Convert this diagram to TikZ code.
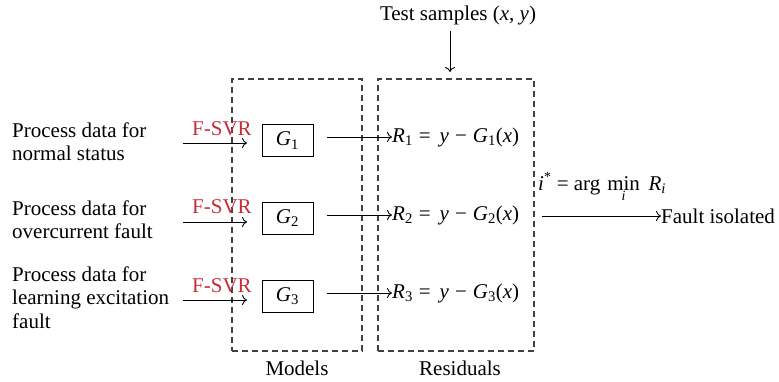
\documentclass[tikz,border=0pt]{standalone}
\usepackage{fontspec}
\setmainfont{Liberation Serif}
\usetikzlibrary{arrows.meta}
\definecolor{svrred}{RGB}{200,45,55}
\newcommand\vv[1]{\textit{#1}}
\newcommand\sbs[1]{\textsubscript{#1}}
\newcommand\resid[1]{\vv{R}\sbs{#1}\hspace{6pt}=\hspace{9pt}\vv{y}\hspace{6pt}−\hspace{6pt}\vv{G}\sbs{#1}(\vv{x})}
\begin{document}
\begin{tikzpicture}[x=1pt,y=-1pt,
  every node/.style={font=\fontsize{21}{23.5}\selectfont, inner sep=0pt},
  dashbox/.style={draw=black!75, line width=1.1pt, dash pattern=on 6pt off 4pt},
  gbox/.style={draw, line width=0.9pt, minimum width=51pt, minimum height=32pt},
  arr/.style={line width=0.9pt, -{To[length=5pt,width=10pt]}},
  lbl/.style={align=left, anchor=west},
  svr/.style={text=svrred}]
\useasboundingbox (0,0) rectangle (779,381);
% dashed containers
\node[dashbox, minimum width=130pt, minimum height=272pt] (models) at (297,215) {};
\node[dashbox, minimum width=156pt, minimum height=272pt] (resid) at (456,215) {};
\node (mlab) at (297,368) {Models};
\node (rlab) at (460,368) {Residuals};
% test samples
\node (test) at (458,15) {Test samples (\vv{x}, \vv{y})};
\coordinate (tt) at (450,31);
\coordinate (tb) at (450,72);
\draw[arr] (tt) -- (tb);
% inputs
\node[lbl] (p1) at (12,141.5) {Process data for\\normal status};
\node[lbl] (p2) at (12,219.5) {Process data for\\overcurrent fault};
\node[lbl] (p3) at (12,297.5) {Process data for\\learning excitation\\fault};
\node[gbox] (g1) at (287.5,140.5) {\vv{G}\sbs{1}};
\node[gbox] (g2) at (287.5,218) {\vv{G}\sbs{2}};
\node[gbox] (g3) at (287.5,296) {\vv{G}\sbs{3}};
\coordinate (i1) at (183,143);
\coordinate (i2) at (183,222);
\coordinate (i3) at (183,300);
\coordinate (e1) at (247,143);
\coordinate (e2) at (247,222);
\coordinate (e3) at (247,300);
\draw[arr] (i1) -- (e1);
\draw[arr] (i2) -- (e2);
\draw[arr] (i3) -- (e3);
\node[svr] (s1) at (222,129) {F-SVR};
\node[svr] (s2) at (222,207) {F-SVR};
\node[svr] (s3) at (222,286) {F-SVR};
% residuals
\node[anchor=west] (r1) at (392,137) {\resid{1}};
\node[anchor=west] (r2) at (392,215) {\resid{2}};
\node[anchor=west] (r3) at (392,293) {\resid{3}};
\coordinate (o1) at (327,137);
\coordinate (o2) at (327,215);
\coordinate (o3) at (327,293);
\draw[arr] (o1) -- (r1.west);
\draw[arr] (o2) -- (r2.west);
\draw[arr] (o3) -- (r3.west);
% decision
\node[anchor=base west] (am) at (538,190) {$\vv{i}^{\hbox{\fontsize{14}{14}\selectfont *}} \hbox{ = arg\,}\mathop{\hbox{min}}\limits_{\raisebox{-2pt}{\fontsize{14}{14}\selectfont\itshape i}} \hbox{ \vv{R}\textsubscript{\itshape i}}$};
\node[anchor=west] (fi) at (661,216) {Fault isolated};
\coordinate (fs) at (542,216);
\draw[arr] (fs) -- (fi.west);
\end{tikzpicture}
\end{document}
